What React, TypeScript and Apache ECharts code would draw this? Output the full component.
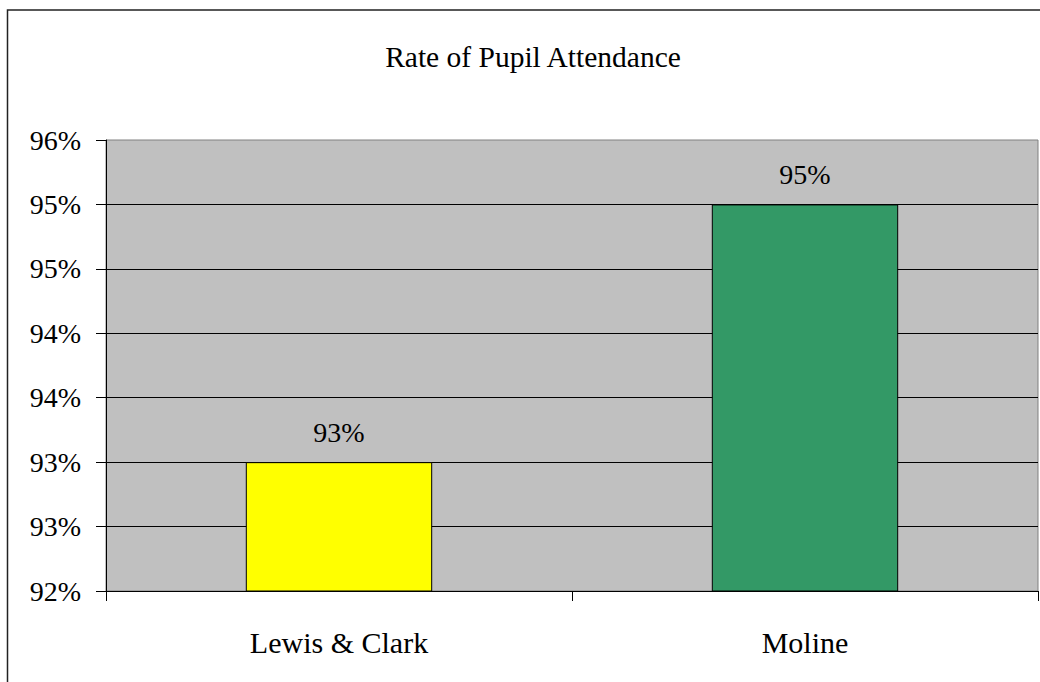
import React, { useEffect, useRef } from "react";
import * as echarts from "echarts";

// Attendance rate per school, in percent
const schools = ["Lewis & Clark", "Moline"];
const attendance = [93, 95];
const barColors = ["#FFFF00", "#339966"];

// Value axis runs from 92% to 95.5% in half-point steps
const axisMin = 92;
const axisMax = 95.5;
const axisStep = 0.5;

const titleText = "Rate of Pupil Attendance";
const serif = "Times New Roman, Liberation Serif, serif";

export default function App() {
  const ref = useRef<HTMLDivElement>(null);

  useEffect(() => {
    if (!ref.current) return;
    const chart = echarts.init(ref.current, null, { renderer: "svg" });
    chart.setOption({
      animation: false,
      backgroundColor: "#FFFFFF",
      textStyle: { fontFamily: serif },
      title: {
        text: titleText,
        left: 528,
        top: 37,
        textAlign: "center",
        textStyle: { fontFamily: serif, fontSize: 29.5, fontWeight: "normal", color: "#000" },
      },
      graphic: [
        {
          type: "rect",
          shape: { x: 7.5, y: 10, width: 1200, height: 1000 },
          style: { fill: "none", stroke: "#222", lineWidth: 1.5 },
          silent: true,
          z: 100,
        },
      ],
      grid: {
        left: 106,
        top: 140,
        right: 2,
        bottom: 91,
        show: true,
        backgroundColor: "#C0C0C0",
        borderColor: "#808080",
        borderWidth: 1,
      },
      xAxis: {
        type: "category",
        data: schools,
        boundaryGap: true,
        axisLine: { show: true, lineStyle: { color: "#000", width: 1 } },
        axisTick: { show: true, length: 10, lineStyle: { color: "#000" } },
        axisLabel: { fontFamily: serif, fontSize: 30, color: "#000", margin: 36 },
        splitLine: { show: false },
      },
      yAxis: {
        type: "value",
        min: axisMin,
        max: axisMax,
        interval: axisStep,
        axisLine: { show: true, lineStyle: { color: "#000", width: 1 } },
        axisTick: { show: true, length: 10, lineStyle: { color: "#000" } },
        axisLabel: {
          fontFamily: serif,
          fontSize: 28,
          color: "#000",
          margin: 25,
          formatter: (v: number) => `${Math.round(v)}%`,
        },
        splitLine: { show: true, showMaxLine: false, lineStyle: { color: "#000", width: 1 } },
      },
      series: [
        {
          type: "bar",
          barWidth: "40%",
          data: attendance.map((v, i) => ({
            value: v,
            itemStyle: { color: barColors[i], borderColor: "#000", borderWidth: 1 },
          })),
          label: {
            show: true,
            position: "top",
            distance: 16,
            fontFamily: serif,
            fontSize: 28,
            color: "#000",
            formatter: (p: any) => `${Math.round(p.value)}%`,
          },
        },
      ],
    });
    return () => chart.dispose();
  }, []);

  return (
    <div
      ref={ref}
      style={{ position: "absolute", left: 0, top: 0, width: 1040, height: 682 }}
    />
  );
}
